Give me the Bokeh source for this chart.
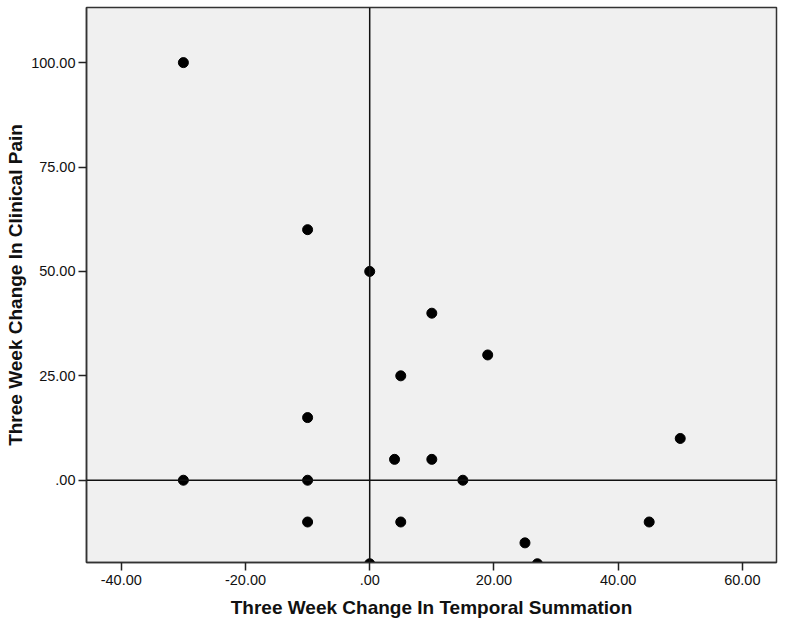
from bokeh.plotting import figure
from bokeh.models import Range1d, FixedTicker, Span
from bokeh.embed import file_html
from bokeh.resources import INLINE

# Data
temporal_summation = [-30, -10, 0, 10, 19, 5, -10, 50, 4, 10, -30, -10, 15, -10, 5, 45, 25, 0, 27]
clinical_pain = [100, 60, 50, 40, 30, 25, 15, 10, 5, 5, 0, 0, 0, -10, -10, -10, -15, -20, -20]

x_ticks = [-40, -20, 0, 20, 40, 60]
x_tick_labels = ["-40.00", "-20.00", ".00", "20.00", "40.00", "60.00"]
y_ticks = [0, 25, 50, 75, 100]
y_tick_labels = [".00", "25.00", "50.00", "75.00", "100.00"]

p = figure(width=784, height=628, output_backend="svg", toolbar_location=None,
           x_range=Range1d(-45.6, 65.5), y_range=Range1d(-19.7, 113.2),
           min_border_left=86, min_border_right=8, min_border_top=7, min_border_bottom=66)

p.background_fill_color = "#f0f0f0"
p.border_fill_color = "white"
p.outline_line_color = "#333333"
p.outline_line_width = 1.5
p.xgrid.visible = False
p.ygrid.visible = False

for ax, ticks, labels in ((p.xaxis[0], x_ticks, x_tick_labels), (p.yaxis[0], y_ticks, y_tick_labels)):
    ax.ticker = FixedTicker(ticks=ticks)
    ax.major_label_overrides = {t: l for t, l in zip(ticks, labels)}
    ax.minor_tick_line_color = None
    ax.major_tick_out = 8
    ax.major_tick_in = 0
    ax.major_tick_line_color = "#222222"
    ax.major_tick_line_width = 1.5
    ax.axis_line_color = "#333333"
    ax.axis_line_width = 1.5
    ax.major_label_text_font = "Liberation Sans"
    ax.major_label_text_font_size = "14.5px"
    ax.major_label_text_color = "#111111"
    ax.axis_label_text_font = "Liberation Sans"
    ax.axis_label_text_font_style = "bold"
    ax.axis_label_text_font_size = "19px"
    ax.axis_label_text_color = "#111111"

p.xaxis.axis_label = "Three Week Change In Temporal Summation"
p.yaxis.axis_label = "Three Week Change In Clinical Pain"
p.xaxis.major_label_standoff = 4
p.yaxis.major_label_standoff = 3
p.xaxis.axis_label_standoff = 9
p.yaxis.axis_label_standoff = 2

p.add_layout(Span(location=0, dimension="width", line_color="#111111", line_width=1.5))
p.add_layout(Span(location=0, dimension="height", line_color="#111111", line_width=1.5))

p.scatter(temporal_summation, clinical_pain, size=10, color="black")

open("out.html", "w").write(file_html(p, INLINE))
